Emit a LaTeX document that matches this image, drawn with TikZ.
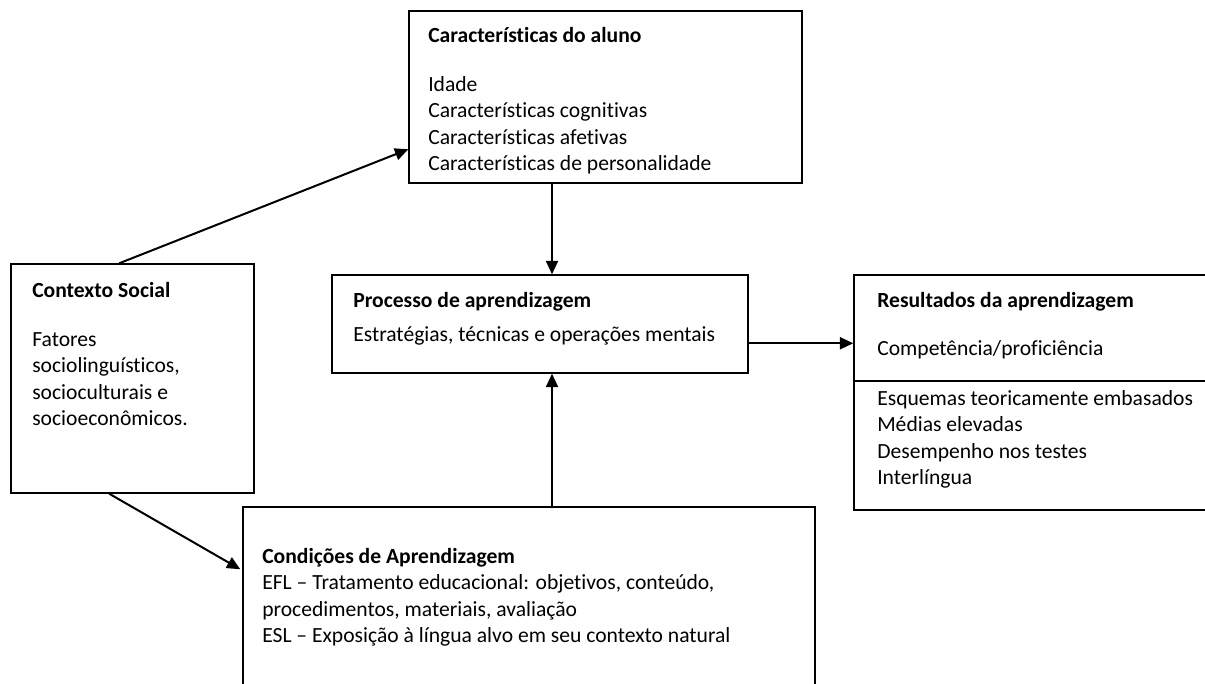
\documentclass[tikz,border=0pt]{standalone}
\usepackage{fontspec}
\setmainfont{Carlito}[Ligatures={TeX,NoCommon}]
\usetikzlibrary{arrows.meta,fit,calc}

\tikzset{
  box/.style={draw, line width=1.1pt, inner sep=0pt},
  txt/.style={anchor=north west, align=left, inner sep=0pt, font=\fontsize{16.2}{19.9}\selectfont},
  arr/.style={line width=1.5pt, -{Triangle[length=10pt,width=9pt]}}
}

\begin{document}
\begin{tikzpicture}[x=0.75pt,y=-0.75pt]
\clip (0,0) rectangle (1205,684);

% Boxes
  \node[box, fit={(409,11) (802,183)}]   (aluno)      {};
  \node[box, fit={(11,264) (254,493)}]   (contexto)   {};
  \node[box, fit={(332,275) (748,373)}]  (processo)   {};
  \node[box, fit={(854,275) (1215,510)}] (resultados) {};
  \node[box, fit={(243,507) (815,700)}]  (condicoes)  {};
  \draw[line width=1.1pt] (resultados.west |- 0,381) -- (resultados.east |- 0,381);

% Texts
  \node[txt] (alunotxt) at (428,23.4) {\strut\textbf{Características do aluno}\\[16.9pt]
    Idade\\ Características cognitivas\\ Características afetivas\\ Características de personalidade};
  \node[txt] (contextotxt) at (32,278.4) {\strut\textbf{Contexto Social}\\[16.9pt]
    Fatores\\ sociolinguísticos,\\ socioculturais e\\ socioeconômicos.};
  \node[txt] (processotxt) at (353,288.4) {\strut\textbf{Processo de aprendizagem}\\[5.6pt]
    Estratégias, técnicas e operações mentais};
  \node[txt] (resultadostxt) at (877,288.4) {\strut\textbf{Resultados da aprendizagem}\\[16pt]
    Competência/proficiência};
  \node[txt] (resultadosb) at (877,386.4) {\strut Esquemas teoricamente embasados\\
    Médias elevadas\\ Desempenho nos testes\\ Interlíngua};
  \node[txt] (condicoestxt) at (262,544.4) {\strut\textbf{Condições de Aprendizagem}\\
    EFL -- Tratamento educacional: objetivos, conteúdo,\\ procedimentos, materiais, avaliação\\
    ESL -- Exposição à língua alvo em seu contexto natural};

% Arrows
  \draw[arr] ($(contexto.north west)+(109,0)$) -- ($(aluno.north west)+(0,139)$);
  \draw[arr] ($(contexto.south west)+(99,0)$) -- ($(condicoes.north west)+(-2,63)$);
  \draw[arr] (aluno.south -| 552,0) -- (processo.north -| 552,0);
  \draw[arr] (condicoes.north -| 552,0) -- (processo.south -| 552,0);
  \draw[arr] ($(processo.north east)+(0,69)$) -- ($(resultados.north west)+(0,69)$);

\end{tikzpicture}
\end{document}
